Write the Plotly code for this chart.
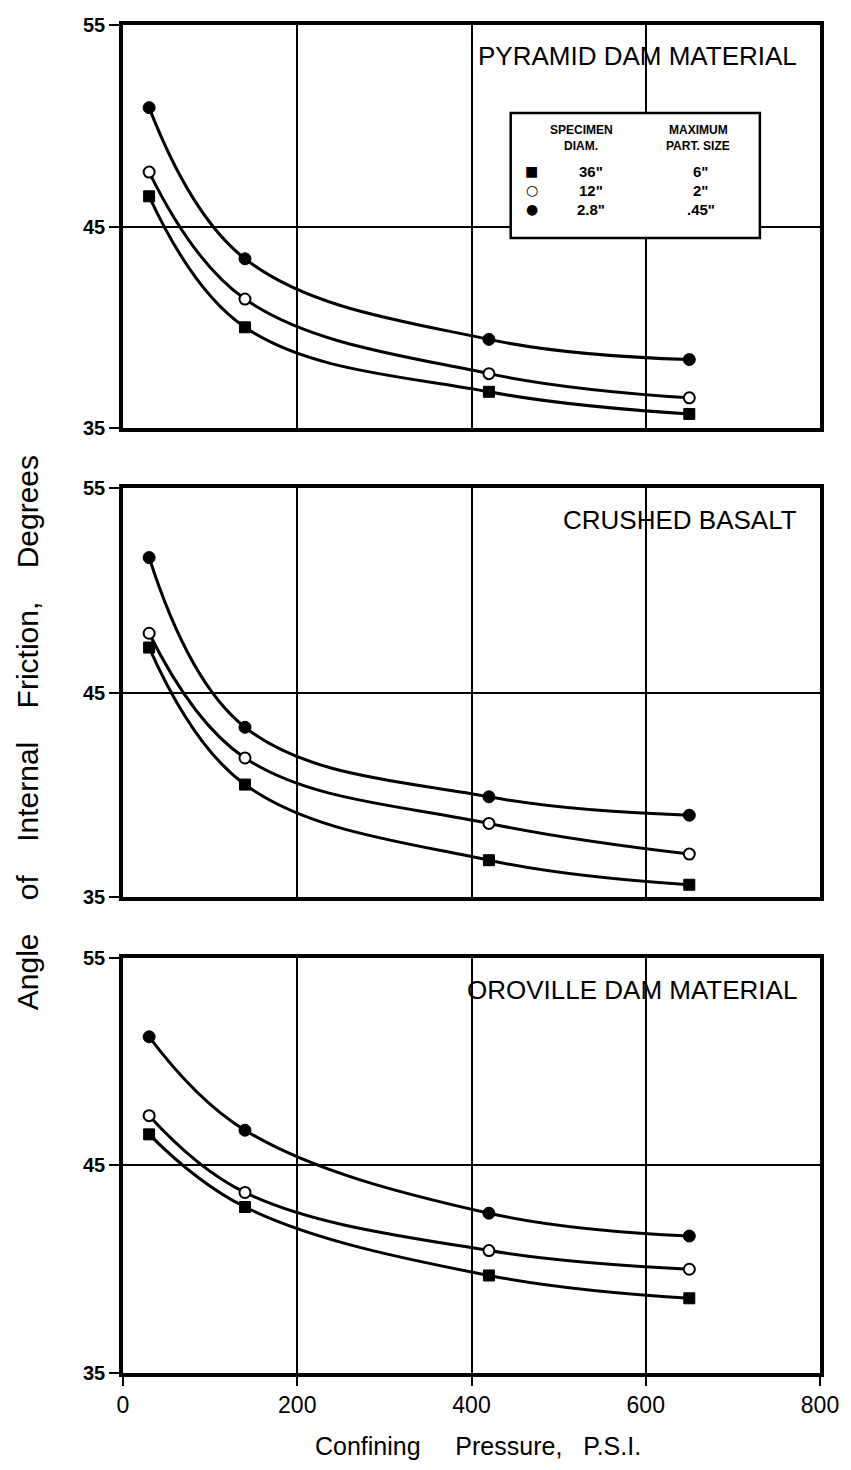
import plotly.graph_objects as go
from plotly.subplots import make_subplots

# ---- data ----
pressure = [30, 140, 420, 650]
panel_titles = ["PYRAMID DAM MATERIAL", "CRUSHED BASALT", "OROVILLE DAM MATERIAL"]

pyramid_36 = [46.5, 40.0, 36.8, 35.7]
pyramid_12 = [47.7, 41.4, 37.7, 36.5]
pyramid_28 = [50.9, 43.4, 39.4, 38.4]

basalt_36 = [47.2, 40.5, 36.8, 35.6]
basalt_12 = [47.9, 41.8, 38.6, 37.1]
basalt_28 = [51.6, 43.3, 39.9, 39.0]

oroville_36 = [46.5, 43.0, 39.7, 38.6]
oroville_12 = [47.4, 43.7, 40.9, 40.0]
oroville_28 = [51.2, 46.7, 42.7, 41.6]

x_ticks = [0, 200, 400, 600, 800]
y_ticks = [35, 45, 55]

legend_symbols = ["■", "○", "●"]
legend_diam = ['36"', '12"', '2.8"']
legend_size = ['6"', '2"', '.45"']

panels = [
    (pyramid_36, pyramid_12, pyramid_28),
    (basalt_36, basalt_12, basalt_28),
    (oroville_36, oroville_12, oroville_28),
]

# ---- figure ----
FONT = "Liberation Sans, Arial, sans-serif"
fig = make_subplots(rows=3, cols=1)

markers = [
    dict(symbol="square", size=11, color="black", line=dict(color="black", width=1)),
    dict(symbol="circle", size=11, color="white", line=dict(color="black", width=2)),
    dict(symbol="circle", size=12, color="black", line=dict(color="black", width=1)),
]

for r, series in enumerate(panels, start=1):
    for s in series:
        fig.add_trace(go.Scatter(
            x=pressure, y=s, mode="lines",
            line=dict(color="black", width=3, shape="spline", smoothing=1.1),
            showlegend=False, hoverinfo="skip"), row=r, col=1)
    for s, mk in zip(series, markers):
        fig.add_trace(go.Scatter(
            x=pressure, y=s, mode="markers", marker=mk,
            showlegend=False), row=r, col=1)

domains = [[0.701, 1.0], [0.3531, 0.6565], [0.0, 0.3079]]
for i in range(1, 4):
    xa = "xaxis" if i == 1 else f"xaxis{i}"
    ya = "yaxis" if i == 1 else f"yaxis{i}"
    fig.layout[ya].update(
        domain=domains[i - 1], range=[35, 55], tickvals=y_ticks,
        showgrid=True, gridcolor="black", gridwidth=1.6,
        showline=True, linecolor="black", linewidth=3.5, mirror=True,
        ticks="outside", ticklen=10, tickwidth=1.6, tickcolor="black",
        tickfont=dict(family=FONT, size=20, color="black", weight="bold"),
        zeroline=False, fixedrange=True)
    fig.layout[xa].update(
        range=[0, 800], tickvals=x_ticks,
        showgrid=True, gridcolor="black", gridwidth=1.6,
        showline=True, linecolor="black", linewidth=3.5, mirror=True,
        ticks="outside" if i == 3 else "", ticklen=9, tickwidth=1.6, tickcolor="black",
        showticklabels=(i == 3), ticklabeloverflow="allow",
        tickfont=dict(family=FONT, size=23, color="black"),
        zeroline=False, fixedrange=True)

# panel titles
for i, t in enumerate(panel_titles, start=1):
    xr = "x" if i == 1 else f"x{i}"
    yr = "y" if i == 1 else f"y{i}"
    fig.add_annotation(x=776, y=53.45, xref=xr, yref=yr, text=t, showarrow=False,
                       xanchor="right", yanchor="middle",
                       font=dict(family=FONT, size=26, color="black"))

# legend box in first panel
fig.add_shape(type="rect", xref="x", yref="y", x0=445, x1=731, y0=44.43, y1=50.63,
              line=dict(color="black", width=2.5), fillcolor="white", layer="above")
hdr_font = dict(family=FONT, size=12, color="black")
for xx, lines in [(526, ["SPECIMEN", "DIAM."]), (660, ["MAXIMUM", "PART. SIZE"])]:
    fig.add_annotation(x=xx, y=49.8, xref="x", yref="y", text=f"<b>{lines[0]}</b>", showarrow=False,
                       font=hdr_font, xanchor="center", yanchor="middle")
    fig.add_annotation(x=xx, y=49.0, xref="x", yref="y", text=f"<b>{lines[1]}</b>", showarrow=False,
                       font=hdr_font, xanchor="center", yanchor="middle")
row_y = [47.75, 46.8, 45.85]
for sym, d, p, yy in zip(legend_symbols, legend_diam, legend_size, row_y):
    fig.add_annotation(x=469, y=yy, xref="x", yref="y", text=f"<b>{sym}</b>", showarrow=False,
                       font=dict(family="DejaVu Sans", size=14, color="black"),
                       xanchor="center", yanchor="middle")
    fig.add_annotation(x=537, y=yy, xref="x", yref="y", text=f"<b>{d}</b>", showarrow=False,
                       font=dict(family=FONT, size=15, color="black"),
                       xanchor="center", yanchor="middle")
    fig.add_annotation(x=663, y=yy, xref="x", yref="y", text=f"<b>{p}</b>", showarrow=False,
                       font=dict(family=FONT, size=15, color="black"),
                       xanchor="center", yanchor="middle")

# axis titles
gap = "&nbsp;" * 4
fig.add_annotation(xref="paper", yref="paper", x=-0.137, y=0.475,
                   text=gap.join(["Angle", "of", "Internal", "Friction,", "Degrees"]),
                   textangle=-90, showarrow=False, xanchor="center", yanchor="middle",
                   font=dict(family=FONT, size=30, color="black"))
fig.add_annotation(xref="paper", yref="paper", x=0.509, y=-0.054,
                   text="Confining&nbsp;&nbsp;&nbsp;&nbsp; Pressure,&nbsp;&nbsp; P.S.I.",
                   showarrow=False, xanchor="center", yanchor="middle",
                   font=dict(family=FONT, size=25, color="black"))

fig.update_layout(
    width=851, height=1470,
    margin=dict(l=123, r=22, t=25, b=97),
    paper_bgcolor="white", plot_bgcolor="white",
    showlegend=False,
)

fig.write_html(
    "out.html",
    config={"displayModeBar": False},
    post_script="document.body.style.margin='0';document.body.style.overflow='hidden';",
)
